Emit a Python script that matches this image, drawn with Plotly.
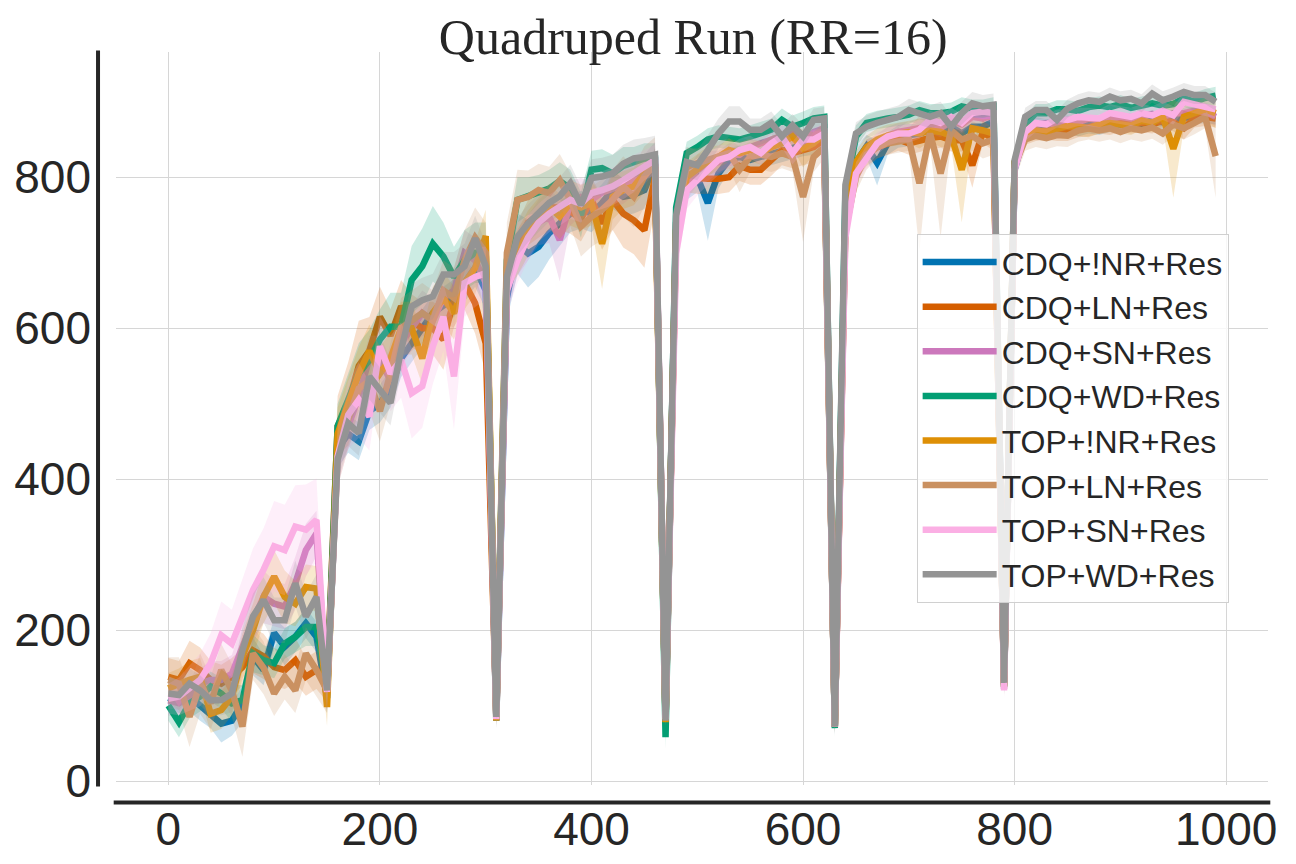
import plotly.graph_objects as go

# x grid: 0..990 step 10
steps = list(range(0, 1000, 10))

names = ["CDQ+!NR+Res", "CDQ+LN+Res", "CDQ+SN+Res", "CDQ+WD+Res",
         "TOP+!NR+Res", "TOP+LN+Res", "TOP+SN+Res", "TOP+WD+Res"]
colors = ["#0173B2", "#D55E00", "#CC78BC", "#029E73",
          "#DE8F05", "#CA9161", "#FBAFE4", "#949494"]

cdq_nr = [110, 105, 112, 100, 90, 76, 80, 103, 165, 147, 196, 178, 191, 209, 191, 110,
          440, 460, 450, 490, 500, 520, 560, 580, 600, 620, 630, 640, 660, 680, 650,
          80,
          640, 712, 699, 708, 726, 739, 752, 757, 752, 766, 783, 774, 777, 783, 818,
          80,
          740, 790, 800, 766, 805, 823, 827, 823, 827, 832, 836, 840, 843, 845, 850,
          72,
          760, 820, 841, 819, 845, 854, 856, 858, 863, 863, 867, 858, 867, 867, 874,
          128,
          810, 860, 868, 865, 867, 870, 866, 870, 868, 872, 870, 873, 871, 875, 873, 876, 880, 882, 884, 882]
cdq_ln = [138, 134, 156, 147, 134, 129, 138, 151, 173, 165, 151, 147, 160, 138, 147, 130,
          470, 500, 550, 570, 615, 590, 629, 610, 600, 600, 585, 637, 660, 633, 580,
          90,
          660, 710, 740, 750, 760, 760, 755, 745, 770, 739, 770, 752, 743, 730, 800,
          85,
          730, 800, 798, 798, 798, 800, 815, 810, 810, 822, 836, 832, 836, 840, 850,
          75,
          740, 810, 830, 840, 845, 850, 845, 849, 852, 854, 849, 849, 816, 860, 850,
          130,
          820, 855, 860, 862, 860, 860, 865, 866, 870, 868, 872, 870, 872, 870, 875, 873, 865, 878, 880, 878]
cdq_sn = [107, 103, 112, 129, 134, 134, 142, 178, 213, 244, 235, 231, 262, 306, 328, 115,
          440, 470, 510, 560, 560, 530, 580, 600, 620, 610, 640, 650, 700, 690, 660,
          85,
          650, 700, 720, 740, 748, 717, 766, 774, 770, 780, 785, 790, 796, 810, 827,
          80,
          720, 790, 810, 815, 820, 830, 830, 840, 845, 850, 855, 860, 845, 860, 865,
          72,
          740, 810, 835, 845, 855, 860, 862, 865, 870, 865, 875, 870, 880, 878, 882,
          122,
          815, 865, 870, 872, 870, 875, 873, 878, 876, 878, 880, 878, 880, 884, 880, 885, 885, 888, 887, 880]
cdq_wd = [100, 78, 103, 112, 125, 116, 103, 107, 169, 160, 156, 182, 191, 204, 204, 120,
          470, 505, 540, 558, 585, 602, 602, 664, 682, 712, 695, 668, 690, 700, 700,
          85,
          690, 770, 775, 778, 785, 795, 785, 750, 810, 812, 805, 815, 820, 825, 825,
          58,
          760, 832, 840, 850, 854, 852, 850, 854, 858, 863, 876, 867, 872, 878, 880,
          70,
          780, 854, 872, 876, 878, 880, 883, 889, 885, 885, 887, 894, 891, 891, 894,
          125,
          820, 870, 885, 885, 890, 890, 888, 893, 895, 893, 897, 892, 895, 898, 895, 897, 905, 900, 905, 908]
top_nr = [123, 129, 134, 138, 89, 94, 112, 165, 200, 244, 271, 244, 235, 257, 255, 98,
          460, 500, 540, 570, 540, 560, 600, 600, 560, 620, 640, 620, 660, 680, 722,
          80,
          680, 700, 726, 743, 761, 748, 766, 760, 766, 712, 774, 783, 788, 805, 814,
          78,
          730, 800, 810, 821, 827, 836, 832, 836, 832, 840, 845, 854, 838, 845, 858,
          72,
          750, 820, 840, 850, 855, 858, 860, 858, 862, 860, 855, 810, 865, 862, 858,
          125,
          820, 858, 862, 860, 865, 868, 867, 865, 870, 872, 870, 868, 875, 872, 880, 838, 880, 885, 890, 885]
top_ln = [134, 129, 85, 129, 103, 147, 120, 72, 169, 150, 116, 138, 120, 169, 147, 120,
          430, 480, 520, 530, 490, 540, 600, 610, 620, 610, 650, 640, 690, 720, 700,
          88,
          700, 770, 774, 783, 779, 796, 770, 735, 748, 757, 770, 788, 774, 801, 818,
          85,
          739, 814, 818, 823, 827, 832, 810, 827, 830, 827, 832, 827, 774, 827, 840,
          74,
          730, 800, 830, 840, 845, 848, 850, 792, 858, 805, 862, 850, 855, 845, 850,
          128,
          815, 850, 855, 852, 856, 855, 862, 865, 862, 865, 860, 865, 862, 866, 858, 870, 865, 872, 880, 828]
top_sn = [109, 112, 123, 134, 156, 193, 182, 218, 253, 280, 311, 306, 337, 333, 346, 118,
          430, 485, 505, 483, 576, 540, 558, 514, 523, 576, 615, 536, 660, 668, 673,
          82,
          650, 690, 720, 740, 752, 761, 770, 765, 779, 783, 788, 796, 805, 816, 823,
          82,
          700, 783, 796, 810, 823, 827, 836, 840, 832, 845, 854, 832, 850, 850, 858,
          72,
          720, 805, 827, 845, 854, 858, 858, 863, 876, 872, 880, 872, 885, 887, 885,
          120,
          810, 860, 872, 870, 878, 876, 880, 880, 878, 885, 882, 880, 885, 882, 888, 882, 900, 897, 893, 890]
top_wd = [116, 114, 129, 120, 107, 107, 116, 173, 218, 240, 213, 213, 262, 218, 244, 120,
          426, 474, 461, 536, 518, 501, 571, 629, 637, 642, 671, 671, 682, 719, 682,
          85,
          668, 721, 739, 752, 766, 775, 792, 763, 799, 801, 805, 818, 825, 827, 830,
          80,
          750, 820, 816, 836, 858, 874, 874, 863, 863, 872, 854, 869, 854, 876, 878,
          72,
          790, 858, 867, 872, 876, 880, 889, 885, 880, 885, 867, 885, 898, 894, 896,
          130,
          823, 880, 889, 889, 876, 891, 898, 902, 900, 907, 902, 904, 898, 911, 902, 907, 913, 909, 909, 900]

# half-width of the shaded band around each mean
cdq_nr_sd = [15, 15, 20, 20, 20, 25, 20, 25, 25, 20, 20, 25, 20, 20, 20, 20,
             25, 25, 25, 25, 25, 25, 25, 25, 25, 25, 25, 25, 25, 25, 25,
             10,
             30, 40, 45, 40, 35, 30, 25, 25, 25, 25, 25, 25, 25, 25, 20,
             10,
             25, 20, 20, 50, 20, 15, 15, 15, 15, 15, 15, 15, 15, 15, 15,
             10,
             20, 20, 15, 30, 15, 15, 15, 12, 12, 12, 12, 12, 12, 12, 12,
             10,
             15, 12, 12, 12, 12, 12, 12, 12, 12, 12, 12, 12, 12, 12, 12, 12, 12, 12, 12, 12]
cdq_ln_sd = [25, 25, 30, 30, 25, 25, 25, 25, 30, 30, 25, 25, 30, 25, 25, 25,
             40, 55, 60, 45, 40, 35, 35, 35, 35, 35, 40, 35, 35, 40, 40,
             10,
             30, 30, 30, 30, 30, 30, 30, 30, 30, 35, 40, 45, 45, 50, 40,
             10,
             25, 20, 20, 20, 20, 20, 20, 20, 20, 20, 20, 20, 20, 20, 15,
             10,
             20, 15, 15, 15, 15, 15, 15, 15, 15, 15, 15, 15, 30, 15, 15,
             10,
             15, 12, 12, 12, 12, 12, 12, 12, 12, 12, 12, 12, 12, 12, 12, 12, 15, 12, 12, 12]
cdq_sn_sd = [20, 20, 20, 20, 25, 25, 25, 30, 30, 35, 30, 30, 35, 35, 30, 20,
             30, 30, 30, 30, 30, 30, 30, 30, 30, 30, 30, 30, 30, 30, 30,
             10,
             30, 30, 30, 30, 35, 55, 30, 25, 25, 25, 25, 25, 20, 20, 20,
             10,
             25, 20, 20, 20, 15, 15, 15, 15, 15, 15, 15, 15, 15, 15, 15,
             10,
             20, 15, 15, 12, 12, 12, 12, 12, 12, 12, 12, 12, 12, 12, 12,
             10,
             15, 12, 12, 12, 12, 12, 12, 12, 12, 12, 12, 12, 12, 12, 12, 12, 12, 12, 12, 12]
cdq_wd_sd = [20, 20, 20, 20, 20, 20, 25, 20, 25, 20, 20, 20, 20, 25, 25, 20,
             30, 35, 40, 40, 40, 45, 45, 45, 50, 50, 45, 40, 40, 40, 40,
             10,
             30, 30, 25, 25, 25, 25, 25, 30, 25, 25, 25, 25, 20, 20, 20,
             15,
             20, 15, 15, 15, 15, 15, 15, 15, 15, 15, 15, 15, 15, 15, 15,
             12,
             20, 15, 12, 12, 12, 12, 12, 12, 12, 12, 12, 12, 12, 12, 12,
             10,
             15, 12, 12, 12, 12, 12, 12, 12, 12, 12, 12, 12, 12, 12, 12, 12, 12, 12, 12, 12]
top_nr_sd = [20, 20, 25, 25, 25, 25, 25, 30, 35, 35, 35, 35, 30, 30, 30, 25,
             35, 35, 35, 35, 35, 35, 35, 35, 35, 35, 35, 35, 35, 35, 35,
             10,
             30, 30, 30, 30, 30, 30, 30, 30, 30, 60, 30, 25, 25, 25, 20,
             10,
             25, 20, 20, 20, 15, 15, 15, 15, 15, 15, 15, 15, 25, 15, 15,
             10,
             20, 15, 15, 15, 15, 15, 15, 20, 15, 20, 15, 70, 15, 15, 20,
             10,
             15, 12, 12, 12, 12, 12, 12, 12, 12, 12, 12, 12, 12, 12, 12, 65, 15, 15, 15, 20]
top_ln_sd = [30, 35, 40, 40, 35, 35, 35, 40, 35, 35, 30, 30, 30, 35, 35, 30,
             40, 40, 40, 40, 40, 40, 40, 40, 40, 40, 40, 40, 40, 40, 40,
             10,
             40, 40, 35, 35, 35, 35, 35, 40, 40, 40, 40, 40, 40, 40, 35,
             10,
             30, 25, 20, 20, 20, 20, 30, 20, 20, 20, 20, 20, 60, 20, 15,
             10,
             25, 20, 20, 15, 15, 15, 15, 90, 15, 85, 15, 25, 20, 20, 20,
             10,
             20, 15, 15, 15, 15, 15, 15, 15, 15, 15, 15, 15, 15, 15, 15, 15, 15, 15, 15, 55]
top_sn_sd = [20, 25, 30, 35, 40, 45, 45, 50, 55, 55, 60, 60, 55, 60, 55, 25,
             40, 45, 50, 45, 40, 50, 50, 60, 55, 50, 45, 70, 45, 40, 35,
             10,
             30, 30, 30, 25, 25, 25, 25, 25, 25, 25, 25, 25, 25, 20, 20,
             10,
             30, 25, 20, 20, 20, 15, 15, 15, 15, 15, 15, 15, 15, 15, 15,
             10,
             20, 15, 15, 15, 12, 12, 12, 12, 12, 12, 12, 12, 12, 12, 12,
             10,
             15, 12, 12, 12, 12, 12, 12, 12, 12, 12, 12, 12, 12, 12, 12, 12, 12, 12, 12, 12]
top_wd_sd = [20, 20, 20, 20, 20, 20, 25, 30, 30, 30, 30, 30, 30, 30, 30, 25,
             30, 30, 30, 30, 30, 30, 30, 30, 30, 30, 30, 30, 30, 30, 30,
             10,
             25, 25, 25, 25, 25, 25, 25, 25, 25, 25, 25, 25, 25, 25, 25,
             10,
             25, 20, 20, 20, 20, 20, 20, 15, 15, 15, 15, 15, 15, 15, 15,
             10,
             20, 15, 15, 15, 15, 15, 15, 15, 15, 15, 15, 15, 15, 15, 15,
             10,
             15, 12, 12, 12, 12, 12, 12, 12, 12, 12, 12, 12, 12, 12, 12, 12, 12, 12, 12, 12]

means = [cdq_nr, cdq_ln, cdq_sn, cdq_wd, top_nr, top_ln, top_sn, top_wd]
spreads = [cdq_nr_sd, cdq_ln_sd, cdq_sn_sd, cdq_wd_sd, top_nr_sd, top_ln_sd, top_sn_sd, top_wd_sd]

INK = "#262626"


def rgba(hex_col, a):
    h = hex_col.lstrip("#")
    return "rgba(%d,%d,%d,%s)" % (int(h[0:2], 16), int(h[2:4], 16), int(h[4:6], 16), a)


fig = go.Figure()

for name, col, m, sd in zip(names, colors, means, spreads):
    assert len(m) == len(steps) and len(sd) == len(steps), name
    lo = [a - b for a, b in zip(m, sd)]
    hi = [a + b for a, b in zip(m, sd)]
    fig.add_trace(go.Scatter(x=steps, y=lo, mode="lines", line=dict(width=0),
                             showlegend=False, hoverinfo="skip"))
    fig.add_trace(go.Scatter(x=steps, y=hi, mode="lines", line=dict(width=0),
                             fill="tonexty", fillcolor=rgba(col, 0.2),
                             showlegend=False, hoverinfo="skip"))
    fig.add_trace(go.Scatter(x=steps, y=m, mode="lines", name=name,
                             line=dict(color=col, width=6.5)))

# seaborn-style offset spines
fig.add_shape(type="line", xref="paper", yref="paper", x0=-0.0156, x1=-0.0156, y0=-0.002, y1=1.002,
              line=dict(color=INK, width=4))
fig.add_shape(type="line", xref="paper", yref="paper", x0=-0.002, x1=1.002, y0=-0.024, y1=-0.024,
              line=dict(color=INK, width=4))

# page body adds an 8px margin, so the figure is 8px smaller than the window
fig.update_layout(
    width=1288, height=856,
    margin=dict(l=108, r=28, t=44, b=79),
    paper_bgcolor="white", plot_bgcolor="white",
    font=dict(family="Liberation Sans, Arial, sans-serif", color=INK, size=32),
    title=dict(text="Quadruped Run (RR=16)", x=0.532, xanchor="center",
               y=0.967, yanchor="middle",
               font=dict(family="Liberation Serif, Times New Roman, serif", size=50, color=INK)),
    legend=dict(x=0.695, y=0.752, xanchor="left", yanchor="top", traceorder="normal",
                bgcolor="rgba(255,255,255,0.8)", bordercolor="#d0d0d0", borderwidth=1,
                font=dict(size=32, color=INK), itemwidth=74, tracegroupgap=0),
    showlegend=True,
)
fig.update_xaxes(range=[-49.5, 1039.5], tickvals=[0, 200, 400, 600, 800, 1000],
                 showgrid=True, gridcolor="#d6d6d6", gridwidth=1, zeroline=False,
                 showline=False, ticks="", tickfont=dict(size=46, color=INK),
                 ticklabelstandoff=13, automargin=False)
fig.update_yaxes(range=[-5.3, 966], tickvals=[0, 200, 400, 600, 800],
                 showgrid=True, gridcolor="#d6d6d6", gridwidth=1, zeroline=False,
                 showline=False, ticks="", tickfont=dict(size=46, color=INK),
                 ticklabelstandoff=24, automargin=False)

fig.write_html("out.html")
